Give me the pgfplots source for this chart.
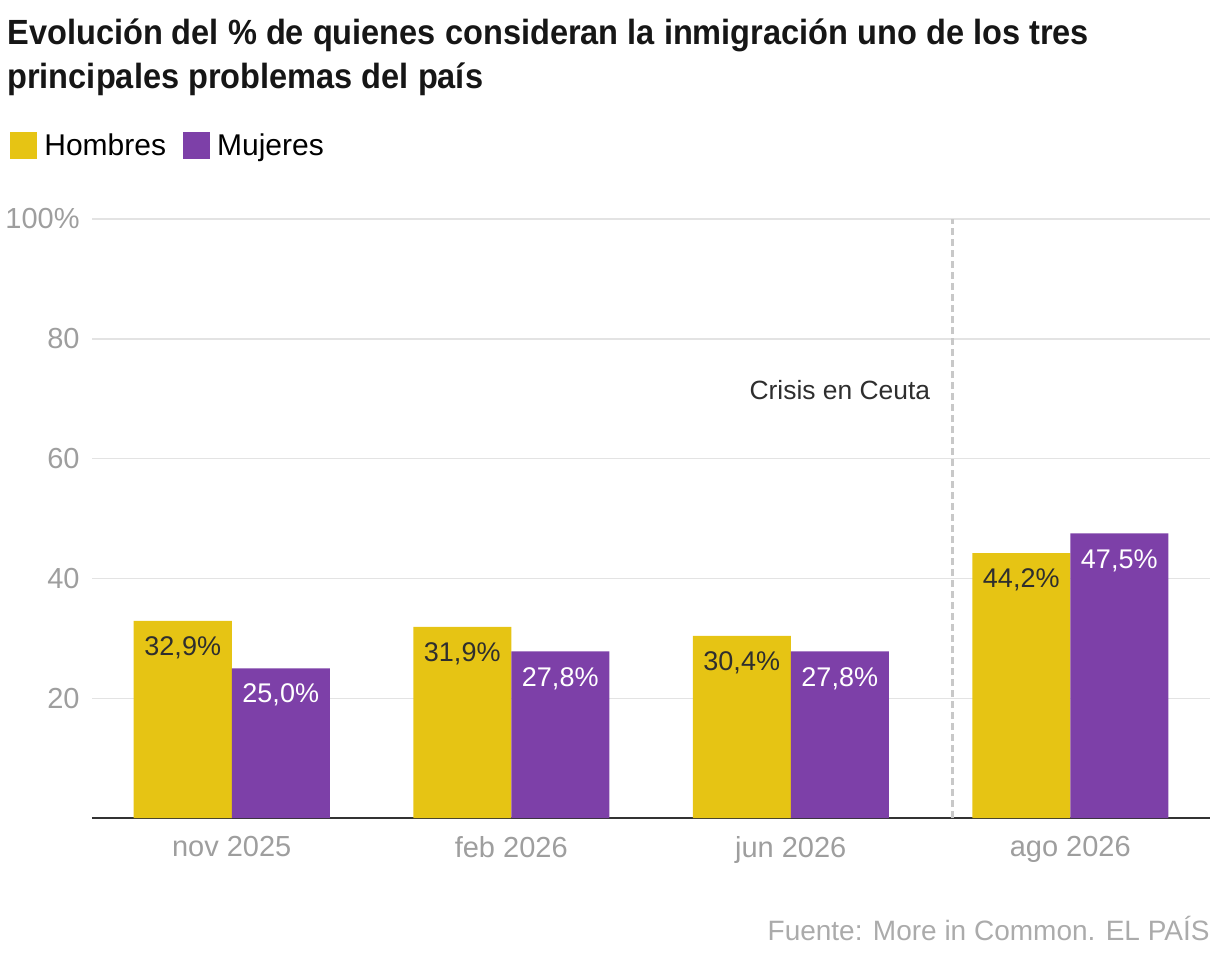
\documentclass[border=0pt]{standalone}
\usepackage{fontspec}
\setmainfont{Liberation Sans}
\newfontfamily\titlefont{Liberation Sans}[FakeStretch=0.93]
\usepackage{pgfplots}
\pgfplotsset{compat=1.18}
\definecolor{hyellow}{HTML}{E6C414}
\definecolor{mpurple}{HTML}{7D40A8}
\definecolor{tickgray}{HTML}{9E9E9E}
\definecolor{srcgray}{HTML}{ABABAB}
\definecolor{gridgray}{HTML}{E3E3E3}
\definecolor{axisdark}{HTML}{333333}
\definecolor{dashgray}{HTML}{C8C8C8}
\definecolor{darktxt}{HTML}{2E2E2E}
\definecolor{titleblack}{HTML}{161616}
\begin{document}
\begin{tikzpicture}
\path[use as bounding box] (0,0) rectangle (610pt,480pt);
\begin{axis}[
  at={(46pt,71pt)}, anchor=south west,
  scale only axis, width=559pt, height=299.5pt,
  xmin=-0.5, xmax=3.5, ymin=0, ymax=100,
  ybar=0pt, bar width=49pt,
  xtick={0,1,2,3}, xticklabels={nov 2025, feb 2026, jun 2026, ago 2026},
  ytick={20,40,60,80,100}, yticklabels={20,40,60,80,100\%},
  major tick length=0pt, tick style={draw=none},
  axis x line*=bottom, axis y line*=left,
  x axis line style={-, draw=axisdark, line width=1pt},
  y axis line style={draw=none},
  ymajorgrids, grid style={gridgray, line width=0.7pt},
  yticklabel style={anchor=east, inner sep=0pt, xshift=-6pt, text=tickgray, font=\fontsize{14.5}{17}\selectfont},
  xticklabel style={anchor=north, inner sep=0pt, yshift=-9pt, text=tickgray, font=\fontsize{14.5}{17}\selectfont},
  /pgf/number format/assume math mode=true,
  nodes near coords={\pgfmathprintnumber[fixed,fixed zerofill,precision=1,use comma,assume math mode=true]{\pgfplotspointmeta}\%},
  every node near coord/.append style={anchor=center, yshift=-13.5pt, inner sep=0pt, font=\fontsize{13.5}{16}\selectfont},
  legend style={at={(axis description cs:0,1)}, anchor=south west, xshift=-41pt, yshift=28pt,
    draw=none, fill=none, inner sep=0pt, font=\fontsize{15}{18}\selectfont,
    /tikz/every even column/.append style={column sep=6.5pt}},
  legend columns=2, legend cell align=left,
  legend image code/.code={\fill[#1] (0pt,-6.5pt) rectangle (13.5pt,7pt); \path (15pt,0pt);},
]
\addplot[fill=hyellow, draw=none, every node near coord/.append style={text=darktxt}]
  coordinates {(0,32.9) (1,31.9) (2,30.4) (3,44.2)};
\addplot[fill=mpurple, draw=none, every node near coord/.append style={text=white}]
  coordinates {(0,25.0) (1,27.8) (2,27.8) (3,47.5)};
\legend{Hombres, Mujeres}
\draw[dashgray, line width=1.5pt, dash pattern=on 3.5pt off 2pt] (axis cs:2.58,0) -- (axis cs:2.58,100);
\node[anchor=east, inner sep=0pt, text=darktxt, font=\fontsize{13.2}{16}\selectfont] at (axis cs:2.5,71.5) {Crisis en Ceuta};
\end{axis}
\node[anchor=base west, inner sep=0pt, text=titleblack, font=\titlefont\bfseries\fontsize{17.5}{22}\selectfont] at (3.5pt,457.5pt) {Evolución del \% de quienes consideran la inmigración uno de los tres};
\node[anchor=base west, inner sep=0pt, text=titleblack, font=\titlefont\bfseries\fontsize{17.5}{22}\selectfont] at (3.5pt,435.5pt) {principales problemas del país};
\node[anchor=base east, inner sep=0pt, text=srcgray, font=\fontsize{14}{17}\selectfont] at (605pt,10pt) {Fuente: More in Common. EL PAÍS};
\end{tikzpicture}
\end{document}
